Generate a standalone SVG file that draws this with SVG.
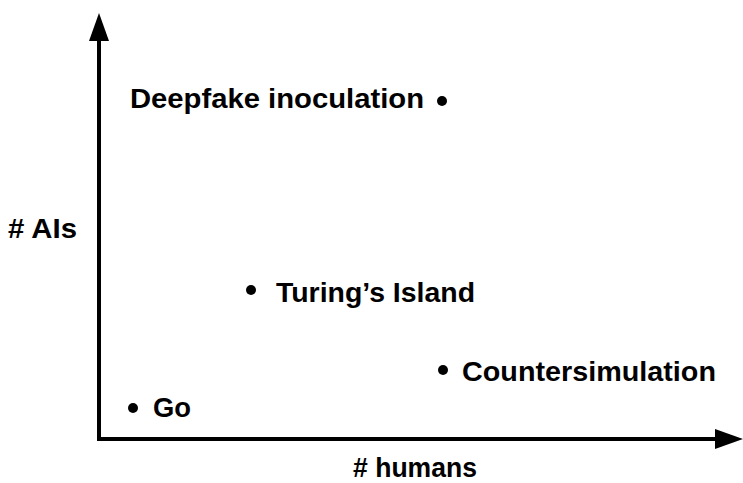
<svg xmlns="http://www.w3.org/2000/svg" width="743" height="483" viewBox="0 0 743 483">
<style>
text{font-family:"Liberation Sans",Arial,sans-serif;font-weight:bold;font-size:27px;fill:#000}
.dot{fill:#000}
.axis{stroke:#000;stroke-width:4;fill:none}
</style>
<rect width="743" height="483" fill="#fff"/>
<g id="axes">
<line class="axis" x1="99" y1="441" x2="99" y2="38"/>
<line class="axis" x1="97" y1="439" x2="718" y2="439"/>
<polygon points="99,13 89,41 109,41"/>
<polygon points="743,439 715,429 715,449"/>
</g>
<text x="8" y="238" textLength="69" lengthAdjust="spacingAndGlyphs"># AIs</text>
<text x="353" y="477" textLength="124" lengthAdjust="spacingAndGlyphs"># humans</text>
<g id="deepfake"><text x="130" y="108" textLength="294" lengthAdjust="spacingAndGlyphs">Deepfake inoculation</text><circle class="dot" cx="442" cy="101" r="5"/></g>
<g id="turing"><circle class="dot" cx="251" cy="290" r="5"/><text x="276" y="302" textLength="199" lengthAdjust="spacingAndGlyphs">Turing’s Island</text></g>
<g id="counter"><circle class="dot" cx="443" cy="370" r="5"/><text x="462" y="381" textLength="254" lengthAdjust="spacingAndGlyphs">Countersimulation</text></g>
<g id="go"><circle class="dot" cx="133" cy="408" r="5"/><text x="153" y="417" textLength="38" lengthAdjust="spacingAndGlyphs">Go</text></g>
</svg>
